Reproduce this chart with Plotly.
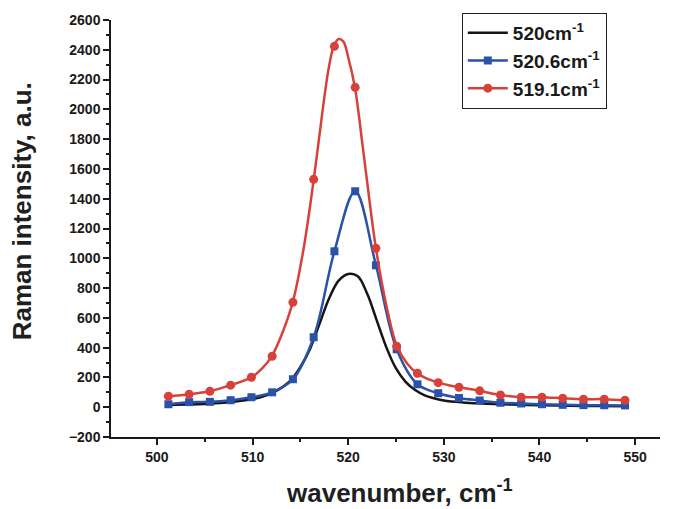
import plotly.graph_objects as go

# Marker grid (wavenumber, cm^-1)
x_pts = [501.2, 503.37, 505.54, 507.71, 509.88, 512.05, 514.22, 516.39, 518.56,
         520.73, 522.9, 525.07, 527.24, 529.41, 531.58, 533.75, 535.92, 538.09,
         540.26, 542.43, 544.6, 546.77, 548.94]

red_y = [74, 87, 107, 148, 201, 342, 705, 1530, 2423, 2148, 1067, 409, 228, 165,
         134, 110, 82, 67, 67, 60, 54, 54, 47]
blue_y = [20, 34, 36, 47, 67, 100, 188, 470, 1047, 1450, 953, 389, 154, 94, 62,
          45, 30, 25, 20, 16, 14, 13, 12]

# Dense red line
x_red_line = [501.2, 503.4, 505.5, 507.7, 509.9, 511.0, 512.0, 513.0, 514.2, 515.3,
              516.4, 517.5, 518.0, 518.5, 519.0, 519.5, 520.0, 520.7, 521.5, 522.2,
              522.9, 524.0, 525.1, 526.2, 527.2, 528.3, 529.4, 530.5, 531.6, 532.7,
              533.8, 535.0, 535.9, 538.1, 540.3, 542.4, 544.6, 546.8, 548.9]
red_line_y = [74, 87, 107, 148, 201, 260, 342, 480, 705, 1050,
              1530, 2080, 2290, 2425, 2472, 2455, 2350, 2148, 1760, 1400,
              1067, 680, 409, 290, 228, 190, 165, 148, 134, 122,
              110, 92, 82, 67, 67, 60, 54, 54, 47]

# Black curve (no markers)
x_black = [501, 503, 505, 507, 509, 510, 511, 512, 513, 514, 515, 516, 517, 518,
           519, 520, 521, 522, 523, 524, 525, 526, 527, 528, 529, 530, 532, 534,
           536, 538, 540, 543, 546, 549]
black_y = [15, 18, 22, 30, 45, 55, 70, 95, 130, 180, 270, 390, 560, 730, 850, 895,
           880, 760, 580, 400, 260, 170, 115, 80, 60, 45, 32, 25, 20, 16, 13, 10, 8, 6]

names = ["520cm<sup>-1</sup>", "520.6cm<sup>-1</sup>", "519.1cm<sup>-1</sup>"]
BLACK, BLUE, RED = "#151515", "#2a52a8", "#d8403a"
FONT = "Arial, Liberation Sans, sans-serif"

fig = go.Figure()
fig.add_trace(go.Scatter(x=x_black, y=black_y, mode="lines", name=names[0],
                         line=dict(color=BLACK, width=2.5, shape="spline")))
fig.add_trace(go.Scatter(x=x_pts, y=blue_y, mode="lines+markers", name=names[1],
                         line=dict(color=BLUE, width=2.5, shape="spline"),
                         marker=dict(symbol="square", size=8, color=BLUE)))
# red: smooth line + markers, with one legend entry
fig.add_trace(go.Scatter(x=x_red_line, y=red_line_y, mode="lines", showlegend=False,
                         legendgroup="red",
                         line=dict(color=RED, width=2.5, shape="spline")))
fig.add_trace(go.Scatter(x=x_pts, y=red_y, mode="markers", showlegend=False,
                         legendgroup="red",
                         marker=dict(symbol="circle", size=9, color=RED)))
fig.add_trace(go.Scatter(x=[None], y=[None], mode="lines+markers", name=names[2],
                         legendgroup="red",
                         line=dict(color=RED, width=2.5),
                         marker=dict(symbol="circle", size=9, color=RED)))

axis_font = dict(family=FONT, size=26, color="#1f1f1f", weight="bold")

fig.update_layout(
    width=674, height=509,
    margin=dict(l=111, r=14, t=20, b=72),
    paper_bgcolor="white", plot_bgcolor="white",
    font=dict(family=FONT, color="#1a1a1a"),
    showlegend=True,
    legend=dict(x=0.639, y=1.017, xanchor="left", yanchor="top",
                bordercolor="#222", borderwidth=1, bgcolor="white",
                font=dict(size=19, color="#1a1a1a", family=FONT, weight="bold"),
                tracegroupgap=0, itemwidth=40),
    annotations=[
        dict(text="Raman intensity, a.u.", xref="paper", yref="paper",
             x=-0.163, y=0.54, xanchor="center", yanchor="middle",
             textangle=-90, showarrow=False, font=axis_font),
        dict(text="wavenumber, cm<sup>-1</sup>", xref="paper", yref="paper",
             x=0.526, y=-0.13, xanchor="center", yanchor="middle",
             showarrow=False, font=axis_font),
    ],
)
fig.update_xaxes(
    range=[495.2, 552.6], dtick=10, tick0=500,
    showline=True, linecolor="#1a1a1a", linewidth=1.5,
    ticks="outside", ticklen=6, tickwidth=1.5, tickcolor="#1a1a1a",
    minor=dict(ticks="outside", dtick=5, tick0=495, ticklen=3, tickcolor="#1a1a1a"),
    showgrid=False, zeroline=False,
    tickfont=dict(size=14, family=FONT, weight="bold"),
)
fig.update_yaxes(
    range=[-200, 2600], dtick=200, tick0=0,
    showline=True, linecolor="#1a1a1a", linewidth=1.5,
    ticks="outside", ticklen=6, tickwidth=1.5, tickcolor="#1a1a1a",
    minor=dict(ticks="outside", dtick=100, ticklen=3, tickcolor="#1a1a1a"),
    showgrid=False, zeroline=False,
    tickfont=dict(size=14, family=FONT, weight="bold"),
)

fig.write_html("out.html")
